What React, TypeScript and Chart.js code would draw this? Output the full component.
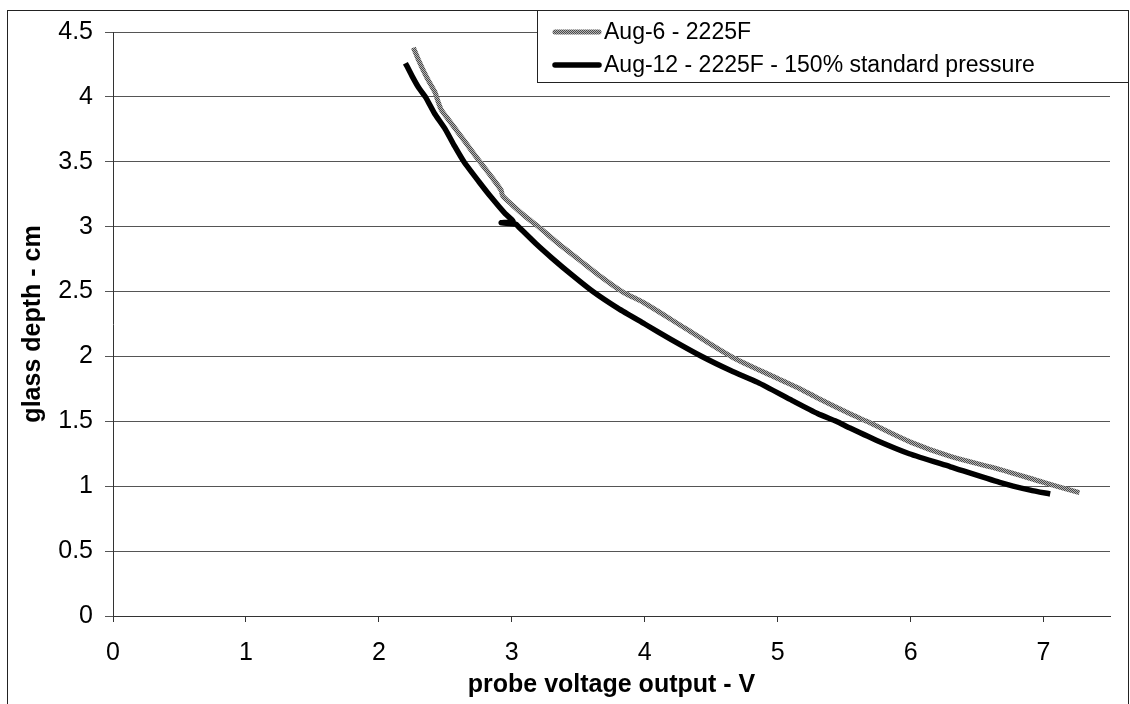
import React, { useEffect, useRef } from 'react';
import { Chart, registerables } from 'chart.js';

Chart.register(...registerables);

const seriesLabels = ['Aug-6 - 2225F', 'Aug-12 - 2225F - 150% standard pressure'];

const aug6X = [2.26, 2.30, 2.36, 2.42, 2.44, 2.47, 2.52, 2.60, 2.68, 2.76, 2.85, 2.92, 2.93, 3.00, 3.10, 3.20, 3.35, 3.50, 3.65, 3.83, 4.00, 4.30, 4.65, 5.00, 5.17, 5.30, 5.54, 5.67, 6.00, 6.30, 6.67, 7.00, 7.27];
const aug6Y = [4.38, 4.28, 4.15, 4.04, 3.98, 3.90, 3.83, 3.72, 3.61, 3.50, 3.38, 3.28, 3.24, 3.17, 3.08, 3.00, 2.87, 2.75, 2.63, 2.50, 2.41, 2.22, 2.00, 1.83, 1.75, 1.68, 1.56, 1.50, 1.34, 1.23, 1.13, 1.03, 0.95];

const aug12X = [2.20, 2.25, 2.30, 2.35, 2.42, 2.50, 2.57, 2.64, 2.75, 2.85, 2.95, 3.01, 2.92, 3.03, 3.05, 3.18, 3.30, 3.45, 3.61, 3.80, 4.00, 4.20, 4.43, 4.65, 4.85, 5.11, 5.30, 5.44, 5.54, 5.75, 5.99, 6.30, 6.67, 6.90, 7.05];
const aug12Y = [4.26, 4.16, 4.07, 4.00, 3.87, 3.75, 3.62, 3.50, 3.35, 3.22, 3.10, 3.04, 3.03, 3.02, 3.00, 2.87, 2.76, 2.63, 2.50, 2.37, 2.25, 2.13, 2.00, 1.89, 1.80, 1.66, 1.56, 1.50, 1.45, 1.35, 1.25, 1.15, 1.03, 0.97, 0.94];

const xTickValues = [0, 1, 2, 3, 4, 5, 6, 7];
const xMin = 0;
const xMax = 7.5;
const yMin = 0;
const yMax = 4.5;
const yStep = 0.5;

const xTitle = 'probe voltage output - V';
const yTitle = 'glass depth - cm';

const FONT = '"Liberation Sans", Arial, sans-serif';

function makeHatch(): CanvasPattern | string {
  const c = document.createElement('canvas');
  c.width = 2;
  c.height = 2;
  const g = c.getContext('2d');
  if (!g) return '#888888';
  g.fillStyle = '#b4b4b4';
  g.fillRect(0, 0, 2, 2);
  g.fillStyle = '#4a4a4a';
  g.fillRect(0, 0, 1, 1);
  g.fillRect(1, 1, 1, 1);
  const p = g.createPattern(c, 'repeat');
  return p || '#888888';
}

const framePlugin = {
  id: 'frameLegend',
  afterDraw(chart: any) {
    const ctx = chart.ctx as CanvasRenderingContext2D;
    ctx.save();
    ctx.strokeStyle = '#222';
    ctx.lineWidth = 1;
    ctx.strokeRect(7.5, 10.5, 1121, 720);
    // legend box
    ctx.fillStyle = '#fff';
    ctx.fillRect(537.5, 10.5, 591, 72);
    ctx.strokeRect(537.5, 10.5, 591, 72);
    const rows = [32, 65];
    chart.data.datasets.forEach((ds: any, i: number) => {
      const y = rows[i];
      ctx.beginPath();
      ctx.strokeStyle = ds.borderColor;
      ctx.lineWidth = ds.borderWidth;
      ctx.lineCap = 'round';
      ctx.moveTo(555, y);
      ctx.lineTo(599, y);
      ctx.stroke();
      ctx.fillStyle = '#000';
      ctx.font = `23px ${FONT}`;
      ctx.textBaseline = 'middle';
      ctx.textAlign = 'left';
      ctx.fillText(ds.label, 604, y + 1);
    });
    ctx.restore();
  },
};

export default function App() {
  const ref = useRef<HTMLCanvasElement | null>(null);

  useEffect(() => {
    if (!ref.current) return;
    const hatch = makeHatch();
    const chart = new Chart(ref.current, {
      type: 'line',
      data: {
        datasets: [
          {
            label: seriesLabels[0],
            data: aug6X.map((x, i) => ({ x, y: aug6Y[i] })),
            borderColor: hatch as any,
            backgroundColor: '#888888',
            borderWidth: 5,
            pointRadius: 0,
            tension: 0.3,
            fill: false,
            order: 1,
          },
          {
            label: seriesLabels[1],
            data: aug12X.map((x, i) => ({ x, y: aug12Y[i] })),
            borderColor: '#000',
            backgroundColor: '#000',
            borderWidth: 5.5,
            pointRadius: 0,
            tension: 0.2,
            fill: false,
            order: 0,
          },
        ],
      },
      options: {
        responsive: false,
        animation: false,
        events: [],
        layout: { padding: { left: 0, top: 32, right: 20, bottom: 4 } },
        plugins: {
          legend: { display: false },
          tooltip: { enabled: false },
          title: { display: false },
        },
        scales: {
          x: {
            type: 'linear',
            min: xMin,
            max: xMax,
            afterBuildTicks: (scale: any) => {
              scale.ticks = xTickValues.map((v) => ({ value: v }));
            },
            afterFit: (scale: any) => {
              scale.height = 84;
            },
            ticks: {
              color: '#000',
              font: { family: FONT, size: 25 },
              padding: 16,
              maxRotation: 0,
              autoSkip: false,
              callback: (v: any) => String(Number(v)),
            },
            grid: {
              drawOnChartArea: false,
              drawTicks: true,
              tickLength: 6,
              color: '#333',
            },
            border: { color: '#333', width: 1 },
            title: {
              display: true,
              text: xTitle,
              color: '#000',
              font: { family: FONT, size: 25, weight: 'bold', lineHeight: 1.2 },
              padding: { top: 0, bottom: 0 },
            },
          },
          y: {
            type: 'linear',
            min: yMin,
            max: yMax,
            afterFit: (scale: any) => {
              scale.width = 113;
            },
            ticks: {
              stepSize: yStep,
              color: '#000',
              font: { family: FONT, size: 25 },
              padding: 12,
              callback: (v: any) => String(Number(v)),
            },
            grid: {
              color: '#555',
              lineWidth: 1,
              drawTicks: true,
              tickLength: 8,
            },
            border: { color: '#333', width: 1 },
            title: {
              display: true,
              text: yTitle,
              color: '#000',
              font: { family: FONT, size: 25, weight: 'bold', lineHeight: 1.2 },
              padding: { top: 18, bottom: 0 },
            },
          },
        },
      },
      plugins: [framePlugin],
    });
    return () => chart.destroy();
  }, []);

  return (
    <div style={{ position: 'absolute', left: 0, top: 0, width: 1130, height: 704, background: '#fff', overflow: 'hidden' }}>
      <canvas ref={ref} width={1130} height={704} style={{ display: 'block', width: 1130, height: 704 }} />
    </div>
  );
}
